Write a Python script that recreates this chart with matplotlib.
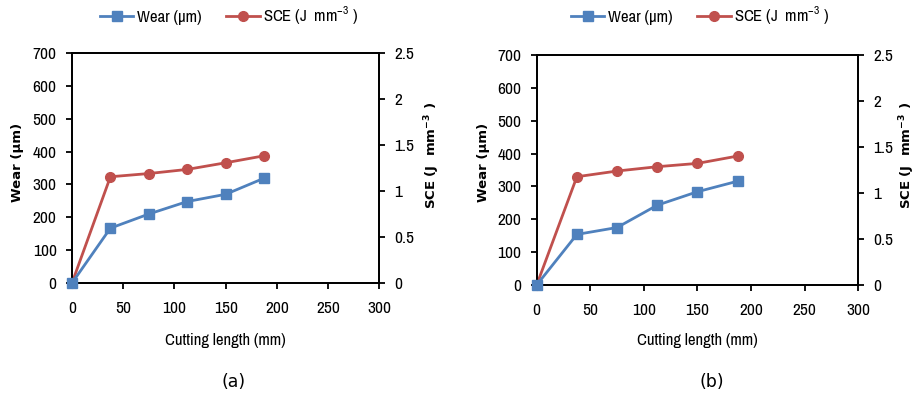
import matplotlib
matplotlib.use("Agg")
import matplotlib.pyplot as plt
from matplotlib.lines import Line2D

cutting_length = [0, 37.5, 75, 112.5, 150, 187.5]
wear_a = [0, 167, 210, 248, 270, 319]
sce_a = [0, 1.155, 1.19, 1.235, 1.307, 1.383]
wear_b = [0, 154, 175, 243, 284, 316]
sce_b = [0, 1.177, 1.239, 1.286, 1.322, 1.402]
x_ticks = [0, 50, 100, 150, 200, 250, 300]
wear_ticks = [0, 100, 200, 300, 400, 500, 600, 700]
sce_ticks = [0, 0.5, 1, 1.5, 2, 2.5]
sce_ticklabels = ["0", "0.5", "1", "1.5", "2", "2.5"]
panel_labels = ["(a)", "(b)"]

plt.rcParams['font.family'] = ['Archivo Narrow', 'DejaVu Sans']
plt.rcParams['font.weight'] = 'medium'
plt.rcParams['mathtext.fontset'] = 'custom'
plt.rcParams['mathtext.rm'] = 'Archivo Narrow:medium'
BLUE = '#4F81BD'
RED = '#C0504D'

fig = plt.figure(figsize=(9.16, 3.99), dpi=100)

panels = [
    dict(rect=[0.0786, 0.2907, 0.3355, 0.5764], wear=wear_a, sce=sce_a, lab=panel_labels[0],
         ylab_x=18, rlab_x=432, leg_x=229, sub_x=234),
    dict(rect=[0.5859, 0.2857, 0.3511, 0.5764], wear=wear_b, sce=sce_b, lab=panel_labels[1],
         ylab_x=484, rlab_x=907, leg_x=700, sub_x=712),
]

W, H = 916, 399
for p in panels:
    ax = fig.add_axes(p['rect'])
    ax2 = ax.twinx()
    ax.plot(cutting_length, p['wear'], color=BLUE, lw=2, marker='s', ms=7.5, zorder=3)
    ax2.plot(cutting_length, p['sce'], color=RED, lw=2, marker='o', ms=7, zorder=3)
    ax.set_xlim(0, 300)
    ax.set_ylim(0, 700)
    ax2.set_ylim(0, 2.5)
    ax.set_xticks(x_ticks)
    ax.set_yticks(wear_ticks)
    ax2.set_yticks(sce_ticks)
    ax2.set_yticklabels(sce_ticklabels)
    for a in (ax, ax2):
        for s in a.spines.values():
            s.set_linewidth(1.3)
            s.set_color('black')
        a.tick_params(direction='out', length=4, width=1.3, labelsize=12.5, colors='black', pad=7)
    ax.tick_params(axis='x', pad=9)
    ax.set_zorder(ax2.get_zorder() + 1)
    ax.patch.set_visible(False)
    for line in ax.lines + ax2.lines:
        line.set_clip_on(False)
    fig.text(p['ylab_x'] / W, 1 - 162 / H, 'Wear (µm)', rotation=90, ha='center', va='center',
             fontsize=9.5, fontweight='bold', family=['DejaVu Sans'])
    fig.text(p['rlab_x'] / W, 1 - 155 / H, 'SCE (J  mm$^{\\mathbf{-3}}$ )', rotation=90, ha='center', va='center',
             fontsize=9.5, fontweight='bold', family=['DejaVu Sans'])
    x0, w = p['rect'][0], p['rect'][2]
    fig.text(x0 + w * 0.5, 1 - 340 / H, 'Cutting length (mm)', ha='center', va='center', fontsize=12)
    fig.text(p['sub_x'] / W, 1 - 382 / H, p['lab'], ha='center', va='center', fontsize=12.5,
             family=['DejaVu Sans'], fontweight='normal')
    handles = [Line2D([], [], color=BLUE, lw=2, marker='s', ms=7.5),
               Line2D([], [], color=RED, lw=2, marker='o', ms=7)]
    fig.legend(handles, ['Wear (µm)', 'SCE (J  mm$^{-3}$ )'], loc='center',
               bbox_to_anchor=(p['leg_x'] / W, 1 - 16 / H), ncol=2, frameon=False,
               fontsize=12, handlelength=2.0, handletextpad=0.2, columnspacing=1.5)

fig.savefig('out.png', dpi=100)
